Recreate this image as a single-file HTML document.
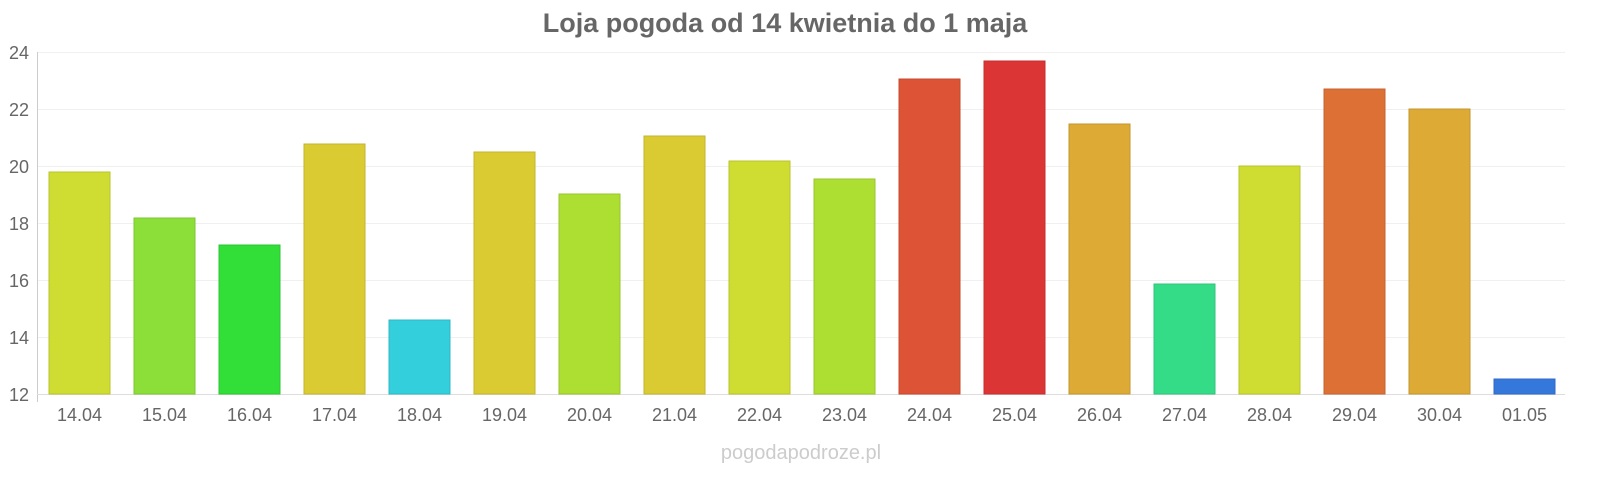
<!DOCTYPE html>
<html><head><meta charset="utf-8"><style>
body{margin:0;background:#fff;}
svg{display:block;font-family:"Liberation Sans",sans-serif;}
</style></head><body>
<svg width="1600" height="480" viewBox="0 0 1600 480">
<text x="785" y="32" text-anchor="middle" font-size="27" font-weight="bold" fill="#666">Loja pogoda od 14 kwietnia do 1 maja</text>
<g stroke="#f0f0f0" stroke-width="1">
<line x1="37" x2="1565" y1="52.5" y2="52.5"/>
<line x1="37" x2="1565" y1="109.5" y2="109.5"/>
<line x1="37" x2="1565" y1="166.5" y2="166.5"/>
<line x1="37" x2="1565" y1="223.5" y2="223.5"/>
<line x1="37" x2="1565" y1="280.5" y2="280.5"/>
<line x1="37" x2="1565" y1="337.5" y2="337.5"/>
</g>
<line x1="37.5" x2="37.5" y1="52" y2="402" stroke="#ccc"/>
<line x1="37" x2="1565" y1="394.5" y2="394.5" stroke="#ddd"/>
<g font-size="18" fill="#666" text-anchor="end">
<text x="29" y="59">24</text><text x="29" y="116">22</text><text x="29" y="173">20</text><text x="29" y="230">18</text><text x="29" y="287">16</text><text x="29" y="344">14</text><text x="29" y="401">12</text>
</g>
<g stroke-width="1">
<rect x="49" y="172" width="61" height="222" fill="#cfdd33" stroke="#b8c42a"/>
<rect x="134" y="218" width="61" height="176" fill="#8cdf38" stroke="#7bc530"/>
<rect x="219" y="245" width="61" height="149" fill="#32df38" stroke="#2cc530"/>
<rect x="304" y="144" width="61" height="250" fill="#dbcb33" stroke="#c2b42d"/>
<rect x="389" y="320" width="61" height="74" fill="#33cfdd" stroke="#2db8c4"/>
<rect x="474" y="152" width="61" height="242" fill="#dbcb33" stroke="#c2b42d"/>
<rect x="559" y="194" width="61" height="200" fill="#addf33" stroke="#99c52d"/>
<rect x="644" y="136" width="61" height="258" fill="#dbcb33" stroke="#c2b42d"/>
<rect x="729" y="161" width="61" height="233" fill="#cfdd33" stroke="#b8c42a"/>
<rect x="814" y="179" width="61" height="215" fill="#addf33" stroke="#99c52d"/>
<rect x="899" y="79" width="61" height="315" fill="#dc5335" stroke="#c4492f"/>
<rect x="984" y="61" width="61" height="333" fill="#dc3535" stroke="#c42f2f"/>
<rect x="1069" y="124" width="61" height="270" fill="#dcaa35" stroke="#c4962f"/>
<rect x="1154" y="284" width="61" height="110" fill="#35dc88" stroke="#2fc479"/>
<rect x="1239" y="166" width="61" height="228" fill="#cfdd33" stroke="#b8c42a"/>
<rect x="1324" y="89" width="61" height="305" fill="#dc7035" stroke="#c4632f"/>
<rect x="1409" y="109" width="61" height="285" fill="#dcaa35" stroke="#c4962f"/>
<rect x="1494" y="379" width="61" height="15" fill="#3578dc" stroke="#2f6ac4"/>
</g>
<g font-size="18" fill="#666" text-anchor="middle">
<text x="79.5" y="421">14.04</text><text x="164.5" y="421">15.04</text><text x="249.5" y="421">16.04</text><text x="334.5" y="421">17.04</text><text x="419.5" y="421">18.04</text><text x="504.5" y="421">19.04</text><text x="589.5" y="421">20.04</text><text x="674.5" y="421">21.04</text><text x="759.5" y="421">22.04</text><text x="844.5" y="421">23.04</text><text x="929.5" y="421">24.04</text><text x="1014.5" y="421">25.04</text><text x="1099.5" y="421">26.04</text><text x="1184.5" y="421">27.04</text><text x="1269.5" y="421">28.04</text><text x="1354.5" y="421">29.04</text><text x="1439.5" y="421">30.04</text><text x="1524.5" y="421">01.05</text>
</g>
<text x="801" y="459" text-anchor="middle" font-size="20" fill="#ccc">pogodapodroze.pl</text>
</svg>
</body></html>
